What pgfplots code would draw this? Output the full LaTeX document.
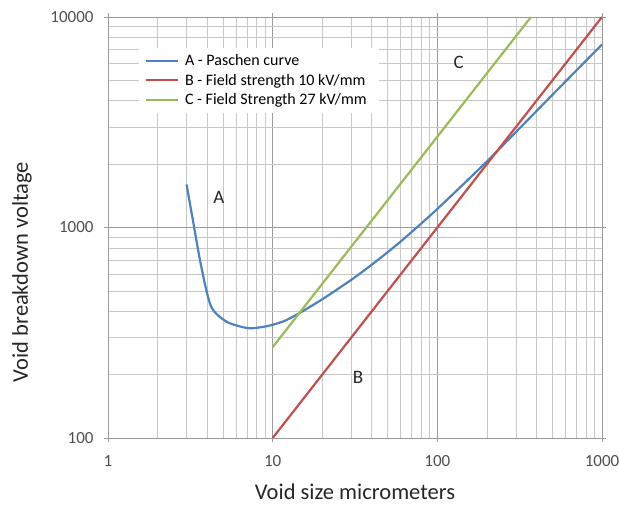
\documentclass[border=0pt]{standalone}
\usepackage{fontspec}
\setmainfont{Carlito}
\usepackage{pgfplots}
\pgfplotsset{compat=1.18}

\definecolor{serA}{HTML}{4F81BD}
\definecolor{serB}{HTML}{C0504D}
\definecolor{serC}{HTML}{9BBB59}
\definecolor{gridmaj}{HTML}{9A9A9A}
\definecolor{gridmin}{HTML}{C8C8C8}
\definecolor{ticktxt}{HTML}{505050}

\begin{document}
\begin{tikzpicture}
  \useasboundingbox (-108bp,-67bp) rectangle (511bp,438bp);
  \begin{axis}[
    at={(0,0)}, anchor=south west,
    scale only axis,
    width=494bp, height=421bp,
    xmode=log, ymode=log,
    xmin=1, xmax=1000, ymin=100, ymax=10000,
    xtick={1,10,100,1000}, ytick={100,1000,10000},
    xticklabels={1,10,100,1000}, yticklabels={100,1000,10000},
    minor xtick={2,3,4,5,6,7,8,9,20,30,40,50,60,70,80,90,200,300,400,500,600,700,800,900},
    minor ytick={200,300,400,500,600,700,800,900,2000,3000,4000,5000,6000,7000,8000,9000},
    /pgf/number format/assume math mode=true,
    ticklabel style={font=\fontsize{17bp}{19bp}\selectfont, text=ticktxt},
    xticklabel style={yshift=-10bp},
    yticklabel style={xshift=-7bp},
    grid=both,
    major grid style={gridmaj, line width=0.7bp},
    minor grid style={gridmin, line width=0.7bp},
    axis line style={gridmaj, line width=0.9bp},
    tick style={gridmaj, line width=0.9bp},
    tick align=outside,
    major tick length=4bp,
    minor tick length=0bp,
    xlabel={Void size micrometers},
    ylabel={Void breakdown voltage},
    label style={font=\fontsize{22.5bp}{25bp}\selectfont, text=black!85},
    xlabel style={at={(axis description cs:0.5,-0.127)}, anchor=center},
    ylabel style={at={(axis description cs:-0.174,0.394)}, anchor=center},
    legend cell align=left,
    legend style={at={(0.062,0.928)}, anchor=north west, draw=none, fill=white,
      font=\fontsize{16bp}{18bp}\selectfont, row sep=3bp,
      inner xsep=6bp, inner ysep=5bp,
      nodes={inner xsep=6bp}},
    legend image code/.code={\draw[#1] (0bp,0bp) -- (32bp,0bp);},
    clip=true,
  ]
    \addplot[serA, line width=2.2bp, smooth, tension=0.5] coordinates {
      (3.0,1600) (3.28,1080) (3.62,700) (3.99,490) (4.34,406) (5.28,356)
      (7.0,333) (8.5,336) (10,345) (12,362) (15,398) (20,456) (30,564)
      (40,666) (50,764) (60,859) (79.4,1040) (100,1225) (140,1573)
      (200,2060) (316,2960) (500,4270) (1000,7400)
    };
    \addlegendentry{A - Paschen curve}
    \addplot[serB, line width=2.2bp] coordinates {(10,100) (1000,10000)};
    \addlegendentry{B - Field strength 10 kV/mm}
    \addplot[serC, line width=2.2bp] coordinates {(10,270) (370.4,10000)};
    \addlegendentry{C - Field Strength 27 kV/mm}
    \node[font=\fontsize{19bp}{21bp}\selectfont, text=black!85] at (axis cs:4.72,1396) {A};
    \node[font=\fontsize{19bp}{21bp}\selectfont, text=black!85] at (axis cs:33,193) {B};
    \node[font=\fontsize{19bp}{21bp}\selectfont, text=black!85] at (axis cs:135,6100) {C};
  \end{axis}
\end{tikzpicture}
\end{document}
